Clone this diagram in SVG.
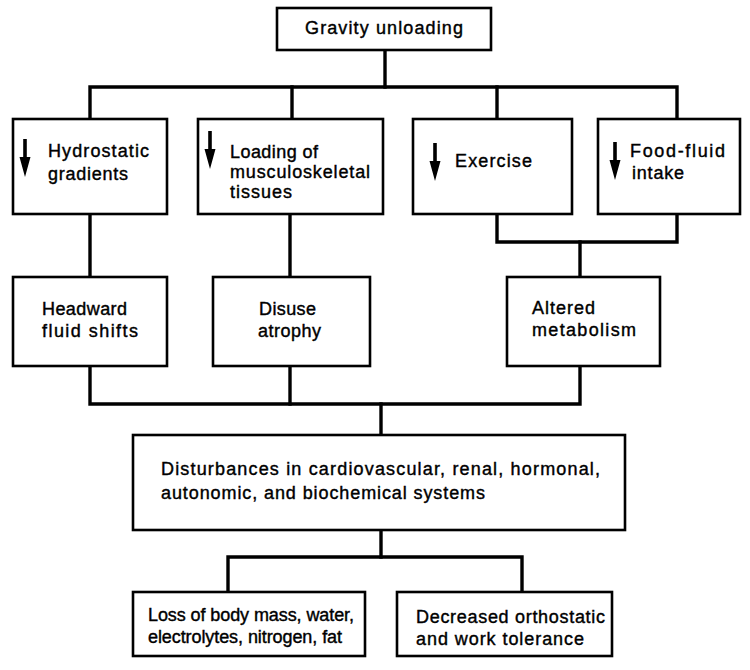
<svg xmlns="http://www.w3.org/2000/svg" width="750" height="670" viewBox="0 0 750 670">
  <style>
    .box { fill: #fff; stroke: #000; stroke-width: 2.6; }
    .wire { fill: none; stroke: #000; stroke-width: 3.4; stroke-linejoin: miter; stroke-linecap: square; }
    .lbl { font-family: "Liberation Sans", Arial, sans-serif; font-size: 18px; fill: #000; stroke: #000; stroke-width: 0.4; }
  </style>
  <defs>
    <!-- "decrease" arrow: heavy shaft with a solid head, anchored at its top -->
    <path id="down-arrow" d="M-1.8,0 H1.8 V18 H5.5 L0,38 L-5.5,18 H-1.8 Z" fill="#000"/>
  </defs>

  <rect width="750" height="670" fill="#fff"/>

  <!-- connectors -->
  <g id="connectors">
    <line x1="385" y1="50" x2="385" y2="87" class="wire"/>
    <polyline points="90,119 90,87 677,87 677,119" class="wire"/>
    <line x1="292" y1="87" x2="292" y2="119" class="wire"/>
    <line x1="497" y1="87" x2="497" y2="119" class="wire"/>

    <line x1="90" y1="214" x2="90" y2="277" class="wire"/>
    <line x1="290" y1="214" x2="290" y2="277" class="wire"/>
    <polyline points="497,214 497,242 677,242 677,214" class="wire"/>
    <line x1="580" y1="242" x2="580" y2="277" class="wire"/>

    <polyline points="90,366 90,404 580,404 580,366" class="wire"/>
    <line x1="290" y1="366" x2="290" y2="404" class="wire"/>
    <line x1="381" y1="404" x2="381" y2="435" class="wire"/>

    <line x1="381" y1="530" x2="381" y2="557" class="wire"/>
    <polyline points="228,592 228,557 522,557 522,592" class="wire"/>
  </g>

  <g id="gravity-unloading">
    <rect x="277" y="8" width="214" height="42" class="box"/>
    <text x="305" y="34" class="lbl" textLength="158" lengthAdjust="spacing">Gravity unloading</text>
  </g>

  <g id="hydrostatic-gradients">
    <rect x="13" y="119" width="154" height="95" class="box"/>
    <use href="#down-arrow" x="25" y="139"/>
    <text x="48" y="157" class="lbl" textLength="101" lengthAdjust="spacing">Hydrostatic</text>
    <text x="48" y="180" class="lbl" textLength="80" lengthAdjust="spacing">gradients</text>
  </g>

  <g id="musculoskeletal-loading">
    <rect x="198" y="119" width="185" height="95" class="box"/>
    <use href="#down-arrow" x="210" y="131"/>
    <text x="230" y="158" class="lbl" textLength="88" lengthAdjust="spacing">Loading of</text>
    <text x="230" y="178" class="lbl" textLength="140" lengthAdjust="spacing">musculoskeletal</text>
    <text x="230" y="198" class="lbl" textLength="62" lengthAdjust="spacing">tissues</text>
  </g>

  <g id="exercise">
    <rect x="413" y="119" width="159" height="95" class="box"/>
    <use href="#down-arrow" x="435" y="143"/>
    <text x="455" y="167" class="lbl" textLength="77" lengthAdjust="spacing">Exercise</text>
  </g>

  <g id="food-fluid-intake">
    <rect x="598" y="119" width="142" height="95" class="box"/>
    <use href="#down-arrow" x="615" y="142"/>
    <text x="630" y="157" class="lbl" textLength="95" lengthAdjust="spacing">Food-fluid</text>
    <text x="632" y="179" class="lbl" textLength="52" lengthAdjust="spacing">intake</text>
  </g>

  <g id="headward-fluid-shifts">
    <rect x="13" y="277" width="154" height="89" class="box"/>
    <text x="42" y="315" class="lbl" textLength="85" lengthAdjust="spacing">Headward</text>
    <text x="42" y="337" class="lbl" textLength="96" lengthAdjust="spacing">fluid shifts</text>
  </g>

  <g id="disuse-atrophy">
    <rect x="213" y="277" width="157" height="89" class="box"/>
    <text x="259" y="315" class="lbl" textLength="57" lengthAdjust="spacing">Disuse</text>
    <text x="258" y="337" class="lbl" textLength="63" lengthAdjust="spacing">atrophy</text>
  </g>

  <g id="altered-metabolism">
    <rect x="507" y="277" width="153" height="89" class="box"/>
    <text x="532" y="314" class="lbl" textLength="63" lengthAdjust="spacing">Altered</text>
    <text x="532" y="336" class="lbl" textLength="104" lengthAdjust="spacing">metabolism</text>
  </g>

  <g id="system-disturbances">
    <rect x="133" y="435" width="492" height="95" class="box"/>
    <text x="161" y="475" class="lbl" textLength="439" lengthAdjust="spacing">Disturbances in cardiovascular, renal, hormonal,</text>
    <text x="161" y="499" class="lbl" textLength="324" lengthAdjust="spacing">autonomic, and biochemical systems</text>
  </g>

  <g id="body-mass-loss">
    <rect x="133" y="592" width="232" height="64" class="box"/>
    <text x="148" y="621" class="lbl" textLength="206" lengthAdjust="spacing">Loss of body mass, water,</text>
    <text x="148" y="643" class="lbl" textLength="194" lengthAdjust="spacing">electrolytes, nitrogen, fat</text>
  </g>

  <g id="decreased-tolerance">
    <rect x="397" y="592" width="215" height="64" class="box"/>
    <text x="416" y="623" class="lbl" textLength="189" lengthAdjust="spacing">Decreased orthostatic</text>
    <text x="416" y="645" class="lbl" textLength="168" lengthAdjust="spacing">and work tolerance</text>
  </g>
</svg>
